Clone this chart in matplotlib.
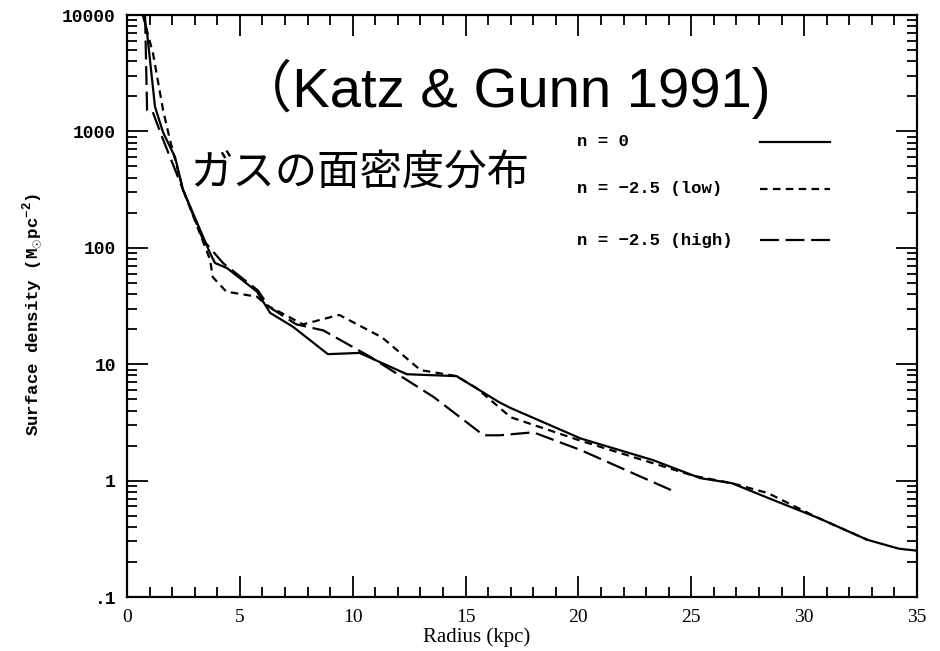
import numpy as np
import matplotlib
matplotlib.use("Agg")
import matplotlib.pyplot as plt
from matplotlib.lines import Line2D
from matplotlib.ticker import MultipleLocator, LogLocator, NullFormatter

plt.rcParams["mathtext.fontset"] = "custom"
plt.rcParams["mathtext.rm"] = "Liberation Mono:bold"

# radius (kpc) and surface density (Msun/pc^2) for the three runs
r_n0 = [0.75, 0.89, 1.24, 1.6, 2.13, 2.48, 3.68, 3.9, 4.43, 5.76, 6.34, 7.35,
        8.9, 10.3, 12.4, 14.6, 16.5, 17.0, 20.1, 23.3, 25.4, 26.8, 28.4,
        30.6, 32.8, 34.2, 35.0]
sd_n0 = [10000, 7000, 1630, 980, 600, 316, 90, 74, 67, 42, 27.6, 21,
         12.2, 12.5, 8.2, 7.9, 4.7, 4.2, 2.3, 1.5, 1.05, 0.95, 0.71,
         0.48, 0.31, 0.26, 0.25]

r_low = [0.7, 1.15, 1.6, 1.9, 2.48, 3.68, 3.8, 4.4, 5.76, 6.2, 7.8, 9.4,
         11.3, 13.0, 14.6, 15.5, 17.0, 20.1, 25.1, 26.8, 28.4, 30.6, 32.8]
sd_low = [10000, 4700, 1520, 850, 316, 79, 56, 42, 38, 32, 22, 26.5,
          17, 8.9, 7.9, 6.2, 3.5, 2.2, 1.1, 0.95, 0.78, 0.48, 0.31]

r_high = [0.8, 0.89, 1.11, 1.6, 2.48, 3.37, 4.25, 5.8, 6.3, 7.5, 8.7, 10.8,
          13.6, 15.8, 16.5, 18.0, 20.1, 22.4, 24.1]
sd_high = [10000, 1520, 1520, 850, 316, 117, 74, 43, 31, 22, 19.5, 11.5,
           5.2, 2.45, 2.45, 2.6, 1.83, 1.16, 0.83]

labels = ["n = 0", "n = \u22122.5 (low)", "n = \u22122.5 (high)"]
ytick_vals = [0.1, 1, 10, 100, 1000, 10000]
ytick_text = [".1", "1", "10", "100", "1000", "10000"]
xtick_vals = [0, 5, 10, 15, 20, 25, 30, 35]

fig = plt.figure(figsize=(9.4, 6.51), dpi=100)
ax = fig.add_axes([127 / 940, 1 - 597 / 651, 790 / 940, 582 / 651])

lw = 1.6
styles = [dict(linestyle="-"), dict(dashes=(3.4, 2.4)), dict(dashes=(8.5, 3.0))]
ax.plot(r_n0, sd_n0, color="black", lw=lw, **styles[0])
ax.plot(r_low, sd_low, color="black", lw=lw, **styles[1])
ax.plot(r_high, sd_high, color="black", lw=lw, **styles[2])

ax.set_yscale("log")
ax.set_xlim(0, 35)
ax.set_ylim(0.1, 10000)

mono = "Liberation Mono"
ax.set_xticks(xtick_vals)
ax.set_xticklabels([str(v) for v in xtick_vals], fontfamily="Liberation Serif",
                   fontsize=14)
ax.xaxis.set_minor_locator(MultipleLocator(1))
ax.set_yticks(ytick_vals)
ax.set_yticklabels(ytick_text, fontfamily=mono, fontweight="bold", fontsize=13)
ax.yaxis.set_minor_locator(LogLocator(base=10, subs=np.arange(2, 10)))
ax.yaxis.set_minor_formatter(NullFormatter())

ax.tick_params(which="both", direction="in", top=True, right=True, width=1.3)
ax.tick_params(which="major", length=15)
ax.tick_params(axis="x", which="major", pad=9)
ax.tick_params(axis="y", which="major", pad=8)
ax.tick_params(which="minor", length=7.5)
for sp in ax.spines.values():
    sp.set_linewidth(1.6)

ax.set_xlabel("Radius (kpc)", fontfamily="Liberation Serif", fontsize=15)
ax.xaxis.set_label_coords(0.443, -0.052)
ax.set_ylabel(r"Surface density (M$_{\odot}$pc$^{-2}$)", fontfamily=mono,
              fontweight="bold", fontsize=12.5)
ax.yaxis.set_label_coords(-0.104, 0.485)

# key: label on the left, line sample on the right
key_y = [142, 189, 240]
for lab, sty, yy in zip(labels, styles, key_y):
    fy = 1 - yy / 651
    fig.text(577 / 940, fy, lab, fontfamily=mono, fontweight="bold",
             fontsize=12.5, va="center", ha="left")
    fig.add_artist(Line2D([760 / 940, 830 / 940], [fy, fy], color="black",
                          lw=lw, **sty))

fig.text(236 / 940, 1 - 107 / 651, "\uff08Katz & Gunn 1991)",
         family=["Liberation Sans", "Noto Sans CJK JP"], fontsize=40.5,
         va="baseline", ha="left")
fig.text(190 / 940, 1 - 174 / 651, "ガスの面密度分布",
         family=["Noto Sans CJK JP", "DejaVu Sans"], fontsize=30.5,
         va="center", ha="left")

fig.savefig("out.png", dpi=100)
